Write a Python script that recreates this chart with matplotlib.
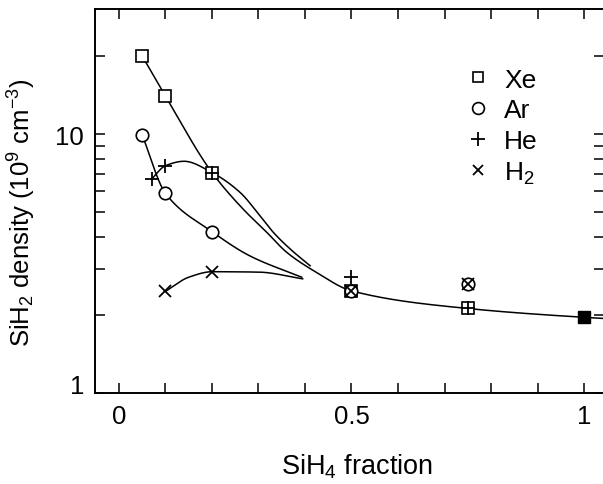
import numpy as np
import matplotlib
matplotlib.use("Agg")
import matplotlib.pyplot as plt
from matplotlib.ticker import FixedLocator, NullFormatter, FixedFormatter
from matplotlib.lines import Line2D

plt.rcParams['font.family'] = ['Liberation Sans', 'DejaVu Sans']
plt.rcParams['mathtext.default'] = 'regular'

# ---- measured points ----
xe_x = [0.05, 0.10, 0.20, 0.50, 0.75]
xe_y = [20.0, 14.0, 7.1, 2.48, 2.12]
ar_x = [0.05, 0.10, 0.20, 0.50, 0.75]
ar_y = [9.9, 5.9, 4.2, 2.48, 2.63]
he_x = [0.07, 0.10, 0.20, 0.50, 0.75]
he_y = [6.7, 7.55, 7.1, 2.80, 2.12]
h2_x = [0.10, 0.20, 0.50, 0.75]
h2_y = [2.47, 2.94, 2.48, 2.63]
pure_x = [1.0]
pure_y = [1.96]

# ---- hand-drawn guide curves (knots) ----
xe_curve_x = [0.05, 0.10, 0.20, 0.267, 0.318, 0.361, 0.425, 0.50, 0.75, 1.00, 1.043]
xe_curve_y = [20.0, 14.0, 7.1, 5.13, 4.17, 3.49, 2.92, 2.48, 2.12, 1.96, 1.94]
he_curve_x = [0.07, 0.10, 0.14, 0.20, 0.26, 0.303, 0.332, 0.368, 0.411]
he_curve_y = [6.7, 7.55, 7.85, 7.1, 5.96, 4.84, 4.17, 3.60, 3.10]
ar_curve_x = [0.05, 0.10, 0.20, 0.282, 0.393]
ar_curve_y = [9.9, 5.9, 4.2, 3.38, 2.80]
h2_curve_x = [0.10, 0.15, 0.20, 0.30, 0.395]
h2_curve_y = [2.47, 2.80, 2.94, 2.93, 2.76]


def smooth(xs, ys, n=400):
    """Monotone cubic (PCHIP) through knots in (x, log y) space."""
    x = np.asarray(xs, float)
    y = np.log10(np.asarray(ys, float))
    h = np.diff(x)
    d = np.diff(y) / h
    m = np.zeros_like(x)
    for k in range(1, len(x) - 1):
        if d[k - 1] * d[k] > 0:
            w1 = 2 * h[k] + h[k - 1]
            w2 = h[k] + 2 * h[k - 1]
            m[k] = (w1 + w2) / (w1 / d[k - 1] + w2 / d[k])
    m[0] = d[0]
    m[-1] = d[-1]
    xx = np.linspace(x[0], x[-1], n)
    idx = np.clip(np.searchsorted(x, xx) - 1, 0, len(x) - 2)
    t = (xx - x[idx]) / h[idx]
    h00 = 2 * t ** 3 - 3 * t ** 2 + 1
    h10 = t ** 3 - 2 * t ** 2 + t
    h01 = -2 * t ** 3 + 3 * t ** 2
    h11 = t ** 3 - t ** 2
    yy = h00 * y[idx] + h10 * h[idx] * m[idx] + h01 * y[idx + 1] + h11 * h[idx] * m[idx + 1]
    return xx, 10 ** yy


fig = plt.figure(figsize=(6.03, 4.85), dpi=100)
ax = fig.add_axes([95 / 603, 91 / 485, 509 / 603, 384 / 485])

lw = 1.1
for cx, cy in [(xe_curve_x, xe_curve_y), (he_curve_x, he_curve_y),
               (ar_curve_x, ar_curve_y), (h2_curve_x, h2_curve_y)]:
    sx, sy = smooth(cx, cy)
    ax.plot(sx, sy, color='black', lw=lw, zorder=2)

ms = 8
ax.plot(xe_x, xe_y, ls='none', marker='s', ms=ms, mfc='white', mec='black', mew=1.2, zorder=3)
ax.plot(ar_x, ar_y, ls='none', marker='o', ms=ms + 1, mfc='white', mec='black', mew=1.2, zorder=3)
ax.plot(he_x, he_y, ls='none', marker='+', ms=ms + 2, mec='black', mew=1.3, zorder=4)
ax.plot(h2_x, h2_y, ls='none', marker='x', ms=ms, mec='black', mew=1.3, zorder=4)
ax.plot(pure_x, pure_y, ls='none', marker='s', ms=ms + 1, mfc='black', mec='black', zorder=5)

ax.set_yscale('log')
ax.set_xlim(-0.0516, 1.043)
ax.set_ylim(1, 30.4)

ax.xaxis.set_major_locator(FixedLocator([0, 0.5, 1.0]))
ax.xaxis.set_major_formatter(FixedFormatter(['0', '0.5', '1']))
ax.xaxis.set_minor_locator(FixedLocator([0.1, 0.2, 0.3, 0.4, 0.6, 0.7, 0.8, 0.9]))
ax.yaxis.set_major_locator(FixedLocator([1, 10]))
ax.yaxis.set_major_formatter(FixedFormatter(['1', '10']))
ax.yaxis.set_minor_locator(FixedLocator([2, 3, 4, 5, 6, 7, 8, 9, 20]))
ax.yaxis.set_minor_formatter(NullFormatter())

for which in ('major', 'minor'):
    ax.tick_params(axis='both', which=which, direction='in', length=7, width=1.1,
                   top=True, right=True, labelsize=18.5)
ax.tick_params(axis='x', which='major', pad=8)
ax.tick_params(axis='y', which='major', pad=8)
for s in ax.spines.values():
    s.set_linewidth(1.4)

ax.set_xlabel('SiH$_4$ fraction', fontsize=19.5)
ax.set_ylabel('SiH$_2$ density (10$^9$ cm$^{-3}$)', fontsize=18.5)
ax.xaxis.label.set_verticalalignment('center')
ax.yaxis.label.set_verticalalignment('center')
ax.xaxis.set_label_coords(0.515, -0.19)
ax.yaxis.set_label_coords(-0.143, 0.471)

handles = [
    Line2D([], [], ls='none', marker='s', ms=7.5, mfc='white', mec='black', mew=1.2),
    Line2D([], [], ls='none', marker='o', ms=8.5, mfc='white', mec='black', mew=1.2),
    Line2D([], [], ls='none', marker='+', ms=10, mec='black', mew=1.3),
    Line2D([], [], ls='none', marker='x', ms=7.5, mec='black', mew=1.3),
]
labels = ['Xe', 'Ar', 'He', 'H$_2$']
ax.legend(handles, labels, loc='upper left', bbox_to_anchor=(0.705, 0.875),
          frameon=False, fontsize=19, handlelength=1.0, handletextpad=0.5,
          labelspacing=0.25, borderaxespad=0)

fig.canvas.draw()
ax.yaxis.get_major_ticks()[0].label1.set_verticalalignment('baseline')

fig.savefig('out.png', dpi=100, facecolor='white')
